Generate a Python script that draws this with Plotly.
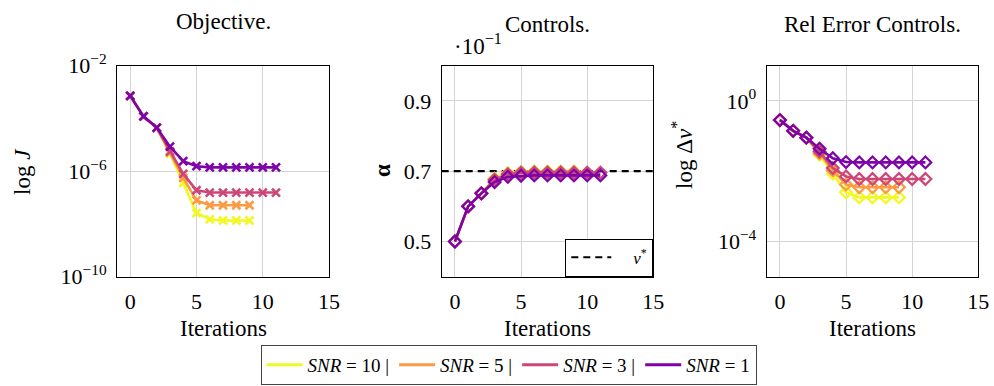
import plotly.graph_objects as go

# ---------------- data ----------------
iters_long = list(range(12))   # SNR = 3, SNR = 1
iters_short = list(range(10))  # SNR = 10, SNR = 5

snr_names = ["<i>SNR</i> = 10 |", "<i>SNR</i> = 5 |", "<i>SNR</i> = 3 |", "<i>SNR</i> = 1"]
colors = ["#f0f921", "#fd9a44", "#cc4778", "#7e03a8"]

# Objective J
J_snr10 = [7.2e-4, 1.2e-4, 4.4e-5, 4.6e-6, 3.6e-7, 2.6e-8, 1.5e-8, 1.35e-8, 1.35e-8, 1.35e-8]
J_snr5 = [7.2e-4, 1.2e-4, 4.4e-5, 5.2e-6, 5.6e-7, 7.8e-8, 5.1e-8, 5.1e-8, 5.1e-8, 5.1e-8]
J_snr3 = [7.2e-4, 1.2e-4, 4.4e-5, 5.6e-6, 7.9e-7, 1.9e-7, 1.55e-7, 1.55e-7, 1.55e-7, 1.55e-7, 1.55e-7, 1.55e-7]
J_snr1 = [7.2e-4, 1.2e-4, 4.5e-5, 8.5e-6, 2.4e-6, 1.55e-6, 1.4e-6, 1.4e-6, 1.4e-6, 1.4e-6, 1.4e-6, 1.4e-6]

# Controls alpha (in units of 1e-1)
a_snr10 = [0.500, 0.600, 0.637, 0.679, 0.694, 0.698, 0.699, 0.699, 0.699, 0.699]
a_snr5 = [0.500, 0.600, 0.637, 0.677, 0.693, 0.697, 0.698, 0.698, 0.698, 0.698]
a_snr3 = [0.500, 0.600, 0.637, 0.675, 0.691, 0.695, 0.696, 0.696, 0.696, 0.696, 0.696, 0.696]
a_snr1 = [0.500, 0.600, 0.637, 0.669, 0.684, 0.687, 0.688, 0.688, 0.688, 0.688, 0.688, 0.688]
nu_star = 0.7
nu_x = [-1, 15]

# Relative error of controls
e_snr10 = [0.285, 0.141, 0.090, 0.0295, 0.0085, 0.0025, 0.0018, 0.0018, 0.0018, 0.0018]
e_snr5 = [0.285, 0.141, 0.090, 0.0324, 0.0105, 0.0042, 0.0035, 0.0035, 0.0035, 0.0035]
e_snr3 = [0.285, 0.141, 0.090, 0.0363, 0.0123, 0.0071, 0.0060, 0.0060, 0.0060, 0.0060, 0.0060, 0.0060]
e_snr1 = [0.285, 0.141, 0.090, 0.0437, 0.0234, 0.0182, 0.0178, 0.0178, 0.0178, 0.0178, 0.0178, 0.0178]

x_ticks = [0, 5, 10, 15]

# ---------------- figure ----------------
W, H = 994, 386
FONT = "Liberation Serif"
fig = go.Figure()

iters = [iters_short, iters_short, iters_long, iters_long]
J_all = [J_snr10, J_snr5, J_snr3, J_snr1]
a_all = [a_snr10, a_snr5, a_snr3, a_snr1]
e_all = [e_snr10, e_snr5, e_snr3, e_snr1]

for i in range(4):
    fig.add_trace(go.Scatter(x=iters[i], y=J_all[i], mode="lines+markers",
                             line=dict(color=colors[i], width=2.6),
                             marker=dict(symbol="x-thin", size=8, line=dict(color=colors[i], width=2.6)),
                             showlegend=False, xaxis="x", yaxis="y"))
fig.add_trace(go.Scatter(x=nu_x, y=[nu_star, nu_star], mode="lines",
                         line=dict(color="black", width=2.2, dash="7px,5px"),
                         name="    <i>ν</i><sup>*</sup>", legend="legend2",
                         xaxis="x2", yaxis="y2"))
for i in range(4):
    fig.add_trace(go.Scatter(x=iters[i], y=a_all[i], mode="lines+markers",
                             line=dict(color=colors[i], width=2.6),
                             marker=dict(symbol="diamond-open", size=9, line=dict(color=colors[i], width=2.2)),
                             showlegend=False, xaxis="x2", yaxis="y2"))
for i in range(4):
    fig.add_trace(go.Scatter(x=iters[i], y=e_all[i], mode="lines+markers",
                             line=dict(color=colors[i], width=2.6),
                             marker=dict(symbol="diamond-open", size=9, line=dict(color=colors[i], width=2.2)),
                             showlegend=False, xaxis="x3", yaxis="y3"))
# legend entries (lines only)
for i in range(4):
    fig.add_trace(go.Scatter(x=[None], y=[None], mode="lines",
                             line=dict(color=colors[i], width=3),
                             name=snr_names[i], legend="legend", xaxis="x", yaxis="y"))

def px_x(p):
    return p / W

def px_y(p):
    return 1 - p / H

ydom = [px_y(276.7), px_y(65.7)]
axis_common = dict(showline=True, mirror=True, linecolor="black", linewidth=1,
                   showgrid=True, gridcolor="#d4d4d4", gridwidth=1, zeroline=False,
                   ticks="outside", ticklen=5, tickcolor="rgba(0,0,0,0)", automargin=False,
                   tickfont=dict(family=FONT, size=22, color="black"))

fig.update_layout(
    width=W, height=H, margin=dict(l=0, r=0, t=0, b=0, autoexpand=False),
    plot_bgcolor="white", paper_bgcolor="white",
    font=dict(family=FONT, color="black"),
    xaxis=dict(domain=[px_x(117), px_x(329)], range=[-1, 15], tickvals=x_ticks, anchor="y", **axis_common),
    yaxis=dict(domain=ydom, type="log", range=[-10, -2], tickvals=[1e-10, 1e-6, 1e-2],
               ticktext=["10<sup>−10</sup>", "10<sup>−6</sup>", "10<sup>−2</sup>"], anchor="x", **axis_common),
    xaxis2=dict(domain=[px_x(441.7), px_x(653.3)], range=[-1, 15], tickvals=x_ticks, anchor="y2", **axis_common),
    yaxis2=dict(domain=ydom, range=[0.4, 1.0], tickvals=[0.5, 0.7, 0.9],
                ticktext=["0.5", "0.7", "0.9"], anchor="x2", **axis_common),
    xaxis3=dict(domain=[px_x(766.7), px_x(978.3)], range=[-1, 15], tickvals=x_ticks, anchor="y3", **axis_common),
    yaxis3=dict(domain=ydom, type="log", range=[-5, 1], tickvals=[1e-4, 1],
                ticktext=["10<sup>−4</sup>", "10<sup>0</sup>"], anchor="x3", **axis_common),
    legend=dict(orientation="h", x=px_x(508.5), xanchor="center", y=px_y(385), yanchor="bottom",
                bordercolor="#444", borderwidth=1, bgcolor="white",
                font=dict(family=FONT, size=19, color="black"), itemwidth=36, tracegroupgap=0),
    legend2=dict(x=px_x(653.3), xanchor="right", y=px_y(276.7), yanchor="bottom",
                 bordercolor="black", borderwidth=1, bgcolor="white",
                 font=dict(family=FONT, size=17, color="black"), itemwidth=40),
)

annots = [
    dict(text="Objective.", x=px_x(223), y=px_y(22)),
    dict(text="Controls.", x=px_x(547.5), y=px_y(24)),
    dict(text="Rel Error Controls.", x=px_x(872.5), y=px_y(24)),
    dict(text="Iterations", x=px_x(223), y=px_y(328)),
    dict(text="Iterations", x=px_x(547.5), y=px_y(328)),
    dict(text="Iterations", x=px_x(872.5), y=px_y(328)),
    dict(text="log <i>J</i>", x=px_x(22), y=px_y(172), textangle=-90),
    dict(text="<b>α</b>", x=px_x(382), y=px_y(171), textangle=-90),
    dict(text="log Δ<i>ν</i><sup>*</sup>", x=px_x(682), y=px_y(155), textangle=-90),
    dict(text="·10<sup>−1</sup>", x=px_x(478), y=px_y(45)),
]
for a in annots:
    fig.add_annotation(xref="paper", yref="paper", showarrow=False,
                       xanchor="center", yanchor="middle",
                       font=dict(family=FONT, size=23, color="black"), **a)

fig.write_html("out.html")
